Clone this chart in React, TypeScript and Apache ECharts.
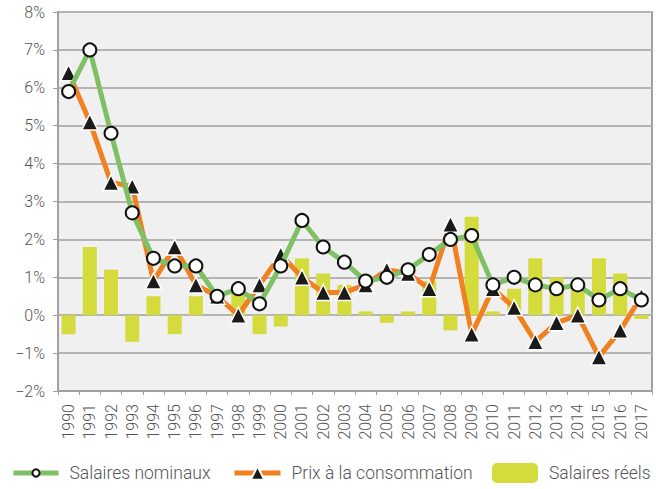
import React, { useEffect, useRef } from "react";
import * as echarts from "echarts";

const years = ["1990","1991","1992","1993","1994","1995","1996","1997","1998","1999","2000","2001","2002","2003","2004","2005","2006","2007","2008","2009","2010","2011","2012","2013","2014","2015","2016","2017"];
const salairesNominaux = [5.9,7.0,4.8,2.7,1.5,1.3,1.3,0.5,0.7,0.3,1.3,2.5,1.8,1.4,0.9,1.0,1.2,1.6,2.0,2.1,0.8,1.0,0.8,0.7,0.8,0.4,0.7,0.4];
const prixConsommation = [6.4,5.1,3.5,3.4,0.9,1.8,0.8,0.5,0.0,0.8,1.6,1.0,0.6,0.6,0.8,1.2,1.1,0.7,2.4,-0.5,0.7,0.2,-0.7,-0.2,0.0,-1.1,-0.4,0.5];
const salairesReels = [-0.5,1.8,1.2,-0.7,0.5,-0.5,0.5,0.0,0.6,-0.5,-0.3,1.5,1.1,0.8,0.1,-0.2,0.1,0.9,-0.4,2.6,0.1,0.7,1.5,1.0,0.8,1.5,1.1,-0.1];

const FONT = "Roboto";
const TEXT = "#555555";
const GREEN = "#80c064";
const ORANGE = "#f08020";
const BAR = "#d4db3c";

export default function App() {
  const ref = useRef<HTMLDivElement>(null);
  useEffect(() => {
    if (!ref.current) return;
    const chart = echarts.init(ref.current, null, { renderer: "svg" });
    const legendText = {
      fontFamily: FONT, fontWeight: 300, fontSize: 17.5, color: TEXT,
      padding: [0, 0, 0, 6],
    };
    chart.setOption({
      animation: false,
      grid: {
        left: 58, right: 4, top: 12, bottom: 98,
        show: true, backgroundColor: "#f0f0f0", borderColor: "#a0a0a0", borderWidth: 2,
      },
      legend: [
        {
          data: ["Salaires nominaux"], left: 11, top: 464, itemWidth: 45, itemHeight: 9,
          textStyle: legendText, padding: 0, lineStyle: { width: 5 },
        },
        {
          data: ["Prix à la consommation"], left: 232, top: 464, itemWidth: 46, itemHeight: 17,
          textStyle: legendText, padding: 0, lineStyle: { width: 5 },
        },
        {
          data: ["Salaires réels"], left: 492, top: 463, itemWidth: 46, itemHeight: 20,
          textStyle: legendText, padding: 0,
        },
      ],
      xAxis: {
        type: "category",
        data: years,
        boundaryGap: true,
        axisLine: { onZero: false, lineStyle: { color: "#a0a0a0", width: 2 } },
        axisTick: { show: true, length: 4, lineStyle: { color: "#a0a0a0", width: 1 } },
        axisLabel: {
          rotate: 90, interval: 0, margin: 13,
          fontFamily: FONT, fontWeight: 300, fontSize: 16, color: TEXT,
        },
      },
      yAxis: {
        type: "value",
        min: -2, max: 8, interval: 1,
        axisLine: { show: true, lineStyle: { color: "#a0a0a0", width: 2 } },
        axisTick: { show: true, length: 5, lineStyle: { color: "#a0a0a0" } },
        splitLine: { lineStyle: { color: "#b4b4b4", width: 2 } },
        axisLabel: {
          margin: 13,
          fontFamily: FONT, fontWeight: 300, fontSize: 16, color: TEXT,
          formatter: (v: number) => (v < 0 ? "\u2212" + Math.abs(v) : String(v)) + "%",
        },
      },
      series: [
        {
          name: "Salaires réels",
          type: "bar",
          data: salairesReels,
          barWidth: "66%",
          itemStyle: { color: BAR },
          z: 1,
        },
        {
          name: "Prix à la consommation",
          type: "line",
          data: prixConsommation,
          symbol: "triangle",
          symbolSize: 16,
          lineStyle: { color: ORANGE, width: 5 },
          itemStyle: { color: "#1a1a1a", borderColor: "#ffffff", borderWidth: 1.5 },
          z: 3,
        },
        {
          name: "Salaires nominaux",
          type: "line",
          data: salairesNominaux,
          symbol: "circle",
          symbolSize: 13,
          lineStyle: { color: GREEN, width: 5 },
          itemStyle: { color: "#ffffff", borderColor: "#111111", borderWidth: 2 },
          z: 4,
        },
      ],
    });
    return () => chart.dispose();
  }, []);
  return <div ref={ref} style={{ width: 656, height: 489, position: "absolute", left: 0, top: 0 }} />;
}
